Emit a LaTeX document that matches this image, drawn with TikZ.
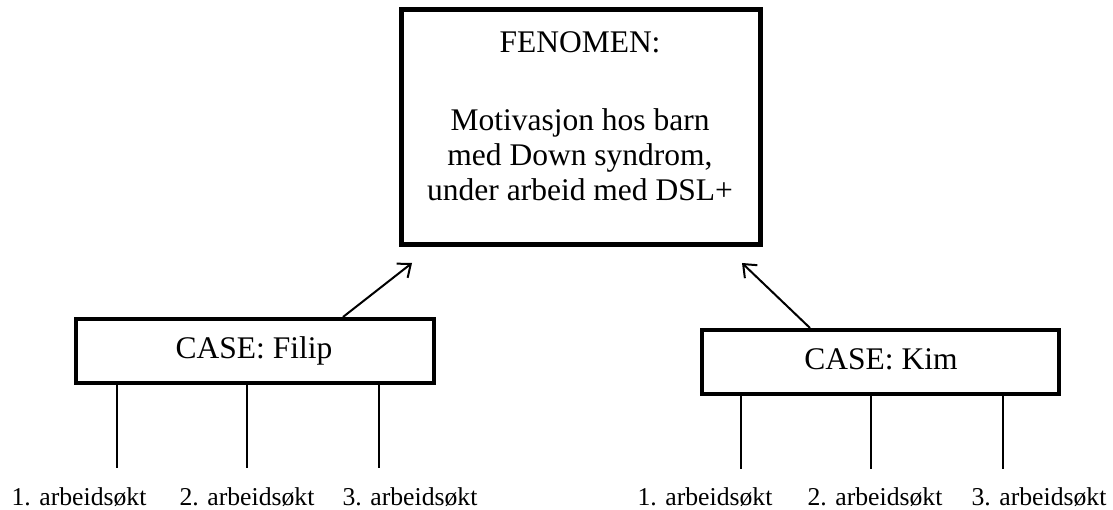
\documentclass[tikz,border=0pt]{standalone}
\usepackage{fontspec}
\setmainfont{Liberation Serif}
\usetikzlibrary{arrows.meta}
\begin{document}
\begin{tikzpicture}[x=1pt,y=-1pt,
  mainbox/.style={draw, line width=5pt, minimum width=359pt, minimum height=235pt, inner sep=0pt},
  casebox/.style={draw, line width=4pt, minimum width=358pt, minimum height=64pt, inner sep=0pt},
  bigtxt/.style={font=\fontsize{31.5}{35}\selectfont, inner sep=0pt, anchor=base},
  smalltxt/.style={font=\fontsize{25.7}{30}\selectfont, inner sep=0pt, anchor=base},
  arr/.style={line width=2pt, -{Straight Barb[length=11pt,width=18pt]}},
  stem/.style={line width=2pt}]
\useasboundingbox (0,0) rectangle (1113,510);
% main box
\node[mainbox] (fen) at (581,127) {};
\node[bigtxt] (t0) at (580,53) {FENOMEN:};
\node[bigtxt] (t1) at (580,131) {Motivasjon hos barn};
\node[bigtxt] (t2) at (580,166) {med Down syndrom,};
\node[bigtxt] (t3) at (580,201) {under arbeid med DSL+};
% case boxes
\node[casebox] (filip) at (255,351) {};
\node[bigtxt] (filipt) at (254,359) {CASE: Filip};
\node[casebox, minimum width=357pt] (kim) at (880.5,362) {};
\node[bigtxt] (kimt) at (881,370) {CASE: Kim};
% arrows
\coordinate (fs) at (343,317);
\coordinate (fe) at (412,263);
\coordinate (ks) at (810,328);
\coordinate (ke) at (742,263);
\draw[arr] (fs) -- (fe);
\draw[arr] (ks) -- (ke);
% stems Filip
\coordinate (f1) at (117,468);
\coordinate (f2) at (247,468);
\coordinate (f3) at (379,468);
\draw[stem] (filip.south -| f1) -- (f1);
\draw[stem] (filip.south -| f2) -- (f2);
\draw[stem] (filip.south -| f3) -- (f3);
\node[smalltxt] (fl1) at (79,505) {1. arbeidsøkt};
\node[smalltxt] (fl2) at (247,505) {2. arbeidsøkt};
\node[smalltxt] (fl3) at (410,505) {3. arbeidsøkt};
% stems Kim
\coordinate (k1) at (741,469);
\coordinate (k2) at (871,469);
\coordinate (k3) at (1003,469);
\draw[stem] (kim.south -| k1) -- (k1);
\draw[stem] (kim.south -| k2) -- (k2);
\draw[stem] (kim.south -| k3) -- (k3);
\node[smalltxt] (kl1) at (705,505) {1. arbeidsøkt};
\node[smalltxt] (kl2) at (875,505) {2. arbeidsøkt};
\node[smalltxt] (kl3) at (1039,505) {3. arbeidsøkt};
\end{tikzpicture}
\end{document}
